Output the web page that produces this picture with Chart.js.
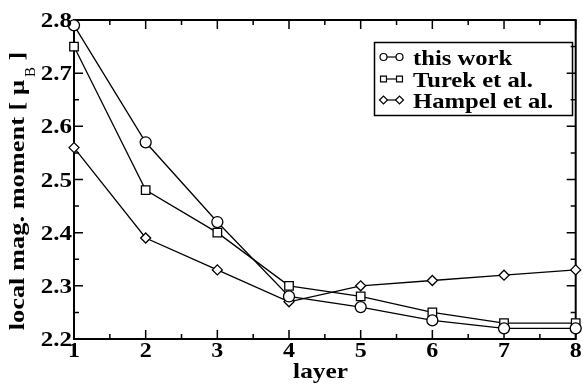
<!DOCTYPE html>
<html>
<head>
<meta charset="utf-8">
<script src="https://cdn.jsdelivr.net/npm/chart.js@4/dist/chart.umd.min.js"></script>
<style>
  html, body { margin: 0; padding: 0; background: #fff; }
  #wrap { width: 583px; height: 386px; }
</style>
</head>
<body>
<div id="wrap"><canvas id="c" width="583" height="386"></canvas></div>
<script>
// Local magnetic moment per layer
const layers = [1, 2, 3, 4, 5, 6, 7, 8];
const thisWork = [2.79, 2.57, 2.42, 2.28, 2.26, 2.235, 2.22, 2.22];
const turek    = [2.75, 2.48, 2.40, 2.30, 2.28, 2.25, 2.23, 2.23];
const hampel   = [2.56, 2.39, 2.33, 2.27, 2.30, 2.31, 2.32, 2.33];
const seriesNames = ['this work', 'Turek et al.', 'Hampel et al.'];
const xTickValues = [1, 2, 3, 4, 5, 6, 7, 8];
const yTickValues = [2.2, 2.3, 2.4, 2.5, 2.6, 2.7, 2.8];
const xTitle = 'layer';
const yTitle = ['local mag. moment [ \u03bc', 'B', ' ]'];

const FONT = '"Liberation Serif", "Times New Roman", serif';
const markerStyles = ['circle', 'rect', 'rectRot'];
const markerRadii = [5.5, 6, 5];
const TEXT_STRETCH = 1.2;   // wide bold serif face

function toPoints(vals) {
  return layers.map((x, i) => ({ x: x, y: vals[i] }));
}

const seriesValues = [thisWork, turek, hampel];
const datasets = seriesValues.map((vals, i) => ({
  label: seriesNames[i],
  data: toPoints(vals),
  borderColor: '#000',
  borderWidth: 1.3,
  backgroundColor: '#fff',
  pointStyle: markerStyles[i],
  pointRadius: markerRadii[i],
  pointBorderWidth: 1.3,
  pointBorderColor: '#000',
  pointBackgroundColor: '#fff',
  tension: 0,
  clip: false
}));

// Draw text stretched horizontally; align: 'left' | 'center' | 'right'
function wideText(ctx, text, font, x, y, align, sx) {
  ctx.save();
  ctx.font = font;
  const w = ctx.measureText(text).width * sx;
  let left = x;
  if (align === 'center') left = x - w / 2;
  else if (align === 'right') left = x - w;
  ctx.translate(left, y);
  ctx.scale(sx, 1);
  ctx.textAlign = 'left';
  ctx.fillText(text, 0, 0);
  ctx.restore();
  return w;
}

const framePlugin = {
  id: 'frame',
  // Frame with inward major/minor ticks on all four sides
  beforeDatasetsDraw(chart) {
    const { ctx, chartArea: a, scales } = chart;
    const xs = scales.x, ys = scales.y;
    ctx.save();
    ctx.strokeStyle = '#000';
    ctx.lineWidth = 2;
    ctx.strokeRect(a.left, a.top, a.right - a.left, a.bottom - a.top);
    ctx.lineWidth = 1.5;
    ctx.beginPath();
    for (let k = 0; k <= 14; k++) {
      const v = 1 + k * 0.5;
      const px = xs.getPixelForValue(v);
      const len = k % 2 === 0 ? 9 : 5;
      ctx.moveTo(px, a.bottom); ctx.lineTo(px, a.bottom - len);
      ctx.moveTo(px, a.top); ctx.lineTo(px, a.top + len);
    }
    for (let k = 0; k <= 12; k++) {
      const v = 2.2 + k * 0.05;
      const py = ys.getPixelForValue(v);
      const len = k % 2 === 0 ? 9 : 5;
      ctx.moveTo(a.left, py); ctx.lineTo(a.left + len, py);
      ctx.moveTo(a.right, py); ctx.lineTo(a.right - len, py);
    }
    ctx.stroke();
    ctx.restore();
  },
  afterDraw(chart) {
    const { ctx, chartArea: a, scales } = chart;
    const xs = scales.x, ys = scales.y;
    ctx.save();
    ctx.fillStyle = '#000';
    ctx.textBaseline = 'alphabetic';

    // tick labels
    const tickFont = 'bold 20px ' + FONT;
    yTickValues.forEach(v => {
      wideText(ctx, v.toFixed(1), tickFont, a.left - 2, ys.getPixelForValue(v) + 7, 'right', 1.25);
    });
    xTickValues.forEach(v => {
      wideText(ctx, String(v), tickFont, xs.getPixelForValue(v), 357, 'center', TEXT_STRETCH);
    });

    // x axis title
    wideText(ctx, xTitle, 'bold 22px ' + FONT, 320.5, 378, 'center', 1.15);

    // y axis title with subscript B
    ctx.save();
    const mainFont = 'bold 22px ' + FONT, subFont = '15px ' + FONT;
    const sy = 1.2;
    ctx.font = mainFont;
    const w0 = ctx.measureText(yTitle[0]).width * sy;
    const w2 = ctx.measureText(yTitle[2]).width * sy;
    ctx.font = subFont;
    const w1 = ctx.measureText(yTitle[1]).width;
    const total = w0 + 3 + w1 + w2;
    ctx.translate(24, 191);
    ctx.rotate(-Math.PI / 2);
    let x0 = -total / 2;
    wideText(ctx, yTitle[0], mainFont, x0, 0, 'left', sy);
    x0 += w0 + 3;
    wideText(ctx, yTitle[1], subFont, x0, 11, 'left', 1);
    x0 += w1;
    wideText(ctx, yTitle[2], mainFont, x0, 0, 'left', sy);
    ctx.restore();

    // legend
    ctx.strokeStyle = '#000';
    ctx.lineWidth = 1.5;
    ctx.strokeRect(374.5, 42.5, 198, 73);
    const rowY = [57, 79, 100];
    const smallR = [3.5, 4.2, 4];
    rowY.forEach((y, i) => {
      ctx.lineWidth = 1.2;
      ctx.strokeStyle = '#000';
      ctx.beginPath();
      ctx.moveTo(383.5, y); ctx.lineTo(399.5, y);
      ctx.stroke();
      [383.5, 399.5].forEach(px => {
        ctx.fillStyle = '#fff';
        ctx.strokeStyle = '#000';
        Chart.helpers.drawPoint(ctx, {
          pointStyle: markerStyles[i], radius: smallR[i], borderWidth: 1.2
        }, px, y);
      });
      ctx.fillStyle = '#000';
      wideText(ctx, seriesNames[i], 'bold 22px ' + FONT, 413, y + 7.5, 'left', 1.12);
    });
    ctx.restore();
  }
};

new Chart(document.getElementById('c'), {
  type: 'line',
  data: { datasets: datasets },
  options: {
    responsive: false,
    animation: false,
    devicePixelRatio: 1,
    layout: { padding: { top: 20, right: 6, left: 0, bottom: 0 } },
    plugins: { legend: { display: false }, tooltip: { enabled: false } },
    scales: {
      x: {
        type: 'linear',
        min: 1, max: 8,
        afterBuildTicks: s => { s.ticks = xTickValues.map(v => ({ value: v })); },
        afterFit: s => { s.height = 47; },
        grid: { display: false, drawTicks: false },
        border: { display: false },
        ticks: { display: false }
      },
      y: {
        type: 'linear',
        min: 2.2, max: 2.8,
        afterBuildTicks: s => { s.ticks = yTickValues.map(v => ({ value: v })); },
        afterFit: s => { s.width = 74; },
        grid: { display: false, drawTicks: false },
        border: { display: false },
        ticks: { display: false }
      }
    }
  },
  plugins: [framePlugin]
});
</script>
</body>
</html>
